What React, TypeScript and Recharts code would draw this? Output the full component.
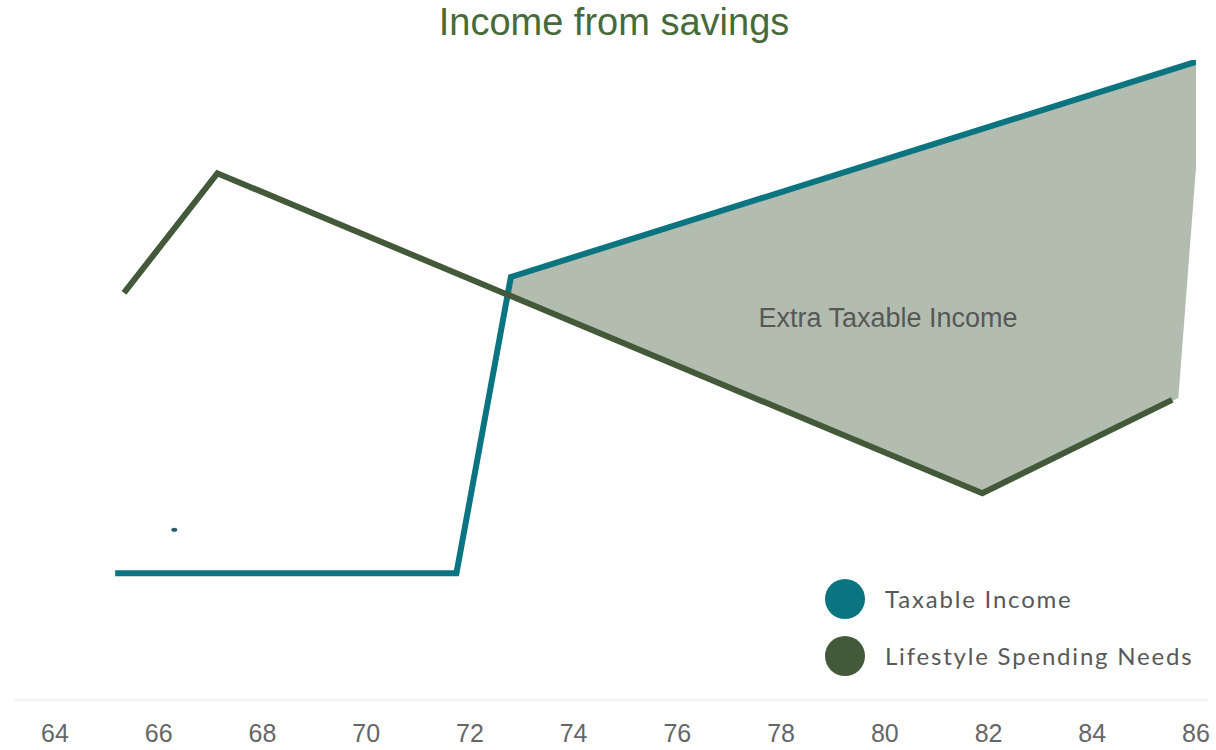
import { ComposedChart, Line, Area, Scatter, XAxis, YAxis } from 'recharts'

// ages on x, income level (0-100 relative units) on y
const taxableAges = [65.16, 71.74, 72.79, 86.03]
const taxableValues = [19.8, 19.8, 66.1, 99.8]

const spendingAges = [65.33, 67.13, 81.88, 85.54]
const spendingValues = [63.6, 82.3, 32.3, 46.9]

// shaded gap where taxable income runs above spending needs
const extraAges = [72.73, 72.79, 81.88, 85.66, 86.16]
const extraLow = [63.6, 63.4, 32.3, 47.2, 100.2]
const extraHigh = [63.6, 66.1, 89.4, 99.2, 100.2]

const strayAges = [66.3]
const strayValues = [26.6]

const xTicks = [64, 66, 68, 70, 72, 74, 76, 78, 80, 82, 84, 86]

const seriesNames = ['Taxable Income', 'Lifestyle Spending Needs']
const TEAL = '#0a7480'
const GREEN = '#43593a'
const seriesColors = [TEAL, GREEN]

const taxableData = taxableAges.map((age, i) => ({ age, v: taxableValues[i] }))
const spendingData = spendingAges.map((age, i) => ({ age, v: spendingValues[i] }))
const extraData = extraAges.map((age, i) => ({ age, range: [extraLow[i], extraHigh[i]] }))
const strayData = strayAges.map((age, i) => ({ age, v: strayValues[i] }))

function ChartLegend() {
  return (
    <div style={{ position: 'absolute', left: 825, top: 570 }}>
      {seriesNames.map((name, i) => (
        <div key={name} style={{ display: 'flex', alignItems: 'center', height: 57 }}>
          <span
            style={{
              display: 'inline-block',
              width: 40,
              height: 40,
              borderRadius: 20,
              background: seriesColors[i],
              marginRight: 20,
            }}
          />
          <span style={{ fontFamily: 'Lato, sans-serif', fontSize: 24, letterSpacing: 1.8, color: '#585858' }}>
            {name}
          </span>
        </div>
      ))}
    </div>
  )
}

export default function App() {
  return (
    <div style={{ position: 'absolute', left: 0, top: 0, width: 1216, height: 750, background: '#fff' }}>
      <div
        style={{
          position: 'absolute',
          left: 0,
          width: 1228,
          top: 1,
          textAlign: 'center',
          fontFamily: '"Liberation Sans", Arial, sans-serif',
          fontSize: 38,
          color: '#476a3b',
        }}
      >
        Income from savings
      </div>
      <ComposedChart width={1216} height={750} margin={{ top: 60, right: 8, bottom: 20, left: 14 }}>
        <XAxis
          dataKey="age"
          type="number"
          domain={[64, 86]}
          ticks={xTicks}
          padding={{ left: 41, right: 12 }}
          axisLine={{ stroke: '#ebebeb' }}
          tickLine={false}
          tickMargin={18}
          tick={{ fill: '#666', fontSize: 25, fontFamily: '"Liberation Sans", Arial, sans-serif' }}
          allowDataOverflow
        />
        <YAxis hide type="number" domain={[0, 100]} allowDataOverflow />
        <Area
          data={extraData}
          dataKey="range"
          type="linear"
          stroke="none"
          fill="#b2bdb0"
          fillOpacity={1}
          isAnimationActive={false}
        />
        <Line
          data={taxableData}
          dataKey="v"
          name={seriesNames[0]}
          type="linear"
          stroke={TEAL}
          strokeWidth={6}
          strokeLinejoin="miter"
          dot={false}
          activeDot={false}
          isAnimationActive={false}
        />
        <Line
          data={spendingData}
          dataKey="v"
          name={seriesNames[1]}
          type="linear"
          stroke={GREEN}
          strokeWidth={6}
          strokeLinejoin="miter"
          dot={false}
          activeDot={false}
          isAnimationActive={false}
        />
        <Scatter
          data={strayData}
          dataKey="v"
          fill="#2d5b70"
          shape={(p: any) => <ellipse cx={p.cx} cy={p.cy} rx={3} ry={2} fill="#2d5b70" />}
          isAnimationActive={false}
        />
      </ComposedChart>
      <ChartLegend />
      <div
        style={{
          position: 'absolute',
          left: 738,
          width: 300,
          top: 303,
          textAlign: 'center',
          fontFamily: '"Liberation Sans", Arial, sans-serif',
          fontSize: 27,
          color: '#575757',
        }}
      >
        Extra Taxable Income
      </div>
    </div>
  )
}
